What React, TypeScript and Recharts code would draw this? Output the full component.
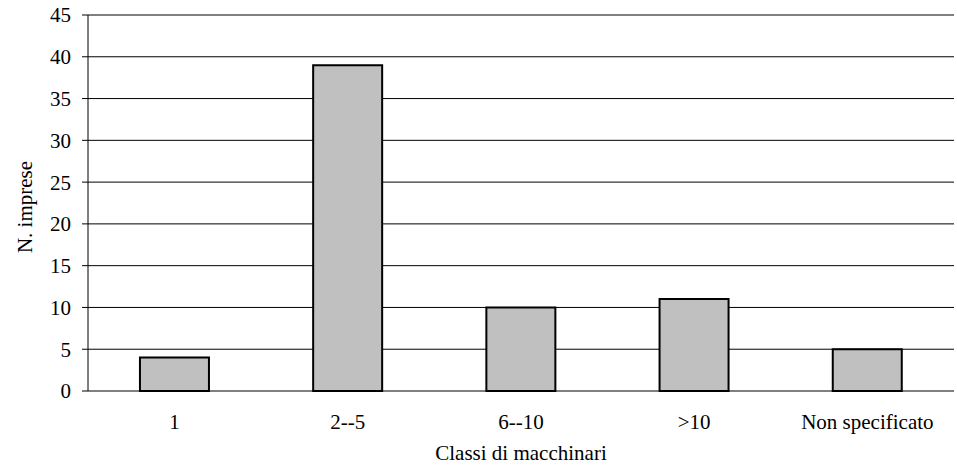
import React from 'react';
import { BarChart, Bar, XAxis, YAxis, CartesianGrid } from 'recharts';

const categories = ['1', '2--5', '6--10', '>10', 'Non specificato'];
const imprese = [4, 39, 10, 11, 5];
const yTicks = [0, 5, 10, 15, 20, 25, 30, 35, 40, 45];
const boundaryTicks = [0, 1, 2, 3, 4, 5];

const data = categories.map((name, i) => ({ name, value: imprese[i] }));

const FONT = '"Liberation Serif", "Times New Roman", serif';
const FS = 21;

// tick mark that crosses the x axis at the category boundaries
const BoundaryTick = (props: any) => {
  const { x, y } = props;
  return <line x1={x} x2={x} y1={y - 7} y2={y + 7} stroke="#000" strokeWidth={1} />;
};

export default function App() {
  return (
    <div style={{ position: 'absolute', left: 0, top: 0, background: '#fff', fontFamily: FONT }}>
      <BarChart
        width={957}
        height={470}
        data={data}
        margin={{ top: 15, right: 3, left: 0, bottom: 0 }}
        barCategoryGap="30%"
      >
        <CartesianGrid vertical={false} stroke="#000" strokeWidth={1} />
        <XAxis
          xAxisId="edges"
          type="number"
          domain={[0, 5]}
          ticks={boundaryTicks}
          allowDataOverflow
          height={0}
          tickSize={0}
          tickMargin={0}
          tickLine={false}
          axisLine={{ stroke: '#000' }}
          tick={<BoundaryTick />}
        />
        <XAxis
          xAxisId="cat"
          dataKey="name"
          height={79}
          axisLine={false}
          tickLine={false}
          tickSize={0}
          tickMargin={23}
          interval={0}
          tick={{ fill: '#000', fontSize: FS, fontFamily: FONT }}
          label={{
            content: ({ viewBox }: any) => (
              <text
                x={viewBox.x + viewBox.width / 2}
                y={460}
                textAnchor="middle"
                fill="#000"
                fontSize={FS}
                fontFamily={FONT}
              >
                Classi di macchinari
              </text>
            ),
          }}
        />
        <YAxis
          width={88}
          domain={[0, 45]}
          ticks={yTicks}
          interval={0}
          axisLine={{ stroke: '#000' }}
          tickLine={{ stroke: '#000' }}
          tickSize={6}
          tickMargin={11}
          tick={{ fill: '#000', fontSize: FS, fontFamily: FONT }}
          label={{
            content: ({ viewBox }: any) => {
              const cx = 32;
              const cy = viewBox.y + viewBox.height / 2 + 4;
              return (
                <text
                  x={cx}
                  y={cy}
                  transform={`rotate(-90 ${cx} ${cy})`}
                  textAnchor="middle"
                  fill="#000"
                  fontSize={FS}
                  fontFamily={FONT}
                >
                  N. imprese
                </text>
              );
            },
          }}
        />
        <Bar
          xAxisId="cat"
          dataKey="value"
          fill="#C0C0C0"
          stroke="#000"
          strokeWidth={2}
          isAnimationActive={false}
        />
      </BarChart>
    </div>
  );
}
